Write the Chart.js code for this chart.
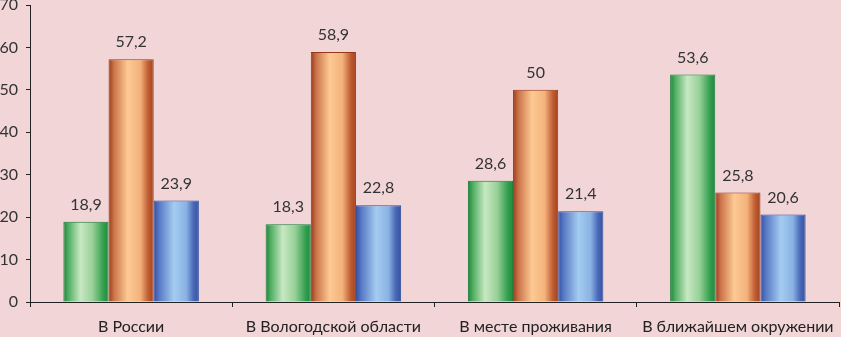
<!DOCTYPE html>
<html>
<head>
<meta charset="utf-8">
<script src="https://cdn.jsdelivr.net/npm/chart.js@4/dist/chart.umd.min.js"></script>
<style>
  html, body { margin: 0; padding: 0; background: #f1d5d7; }
  #wrap { width: 841px; height: 337px; position: relative; }
</style>
</head>
<body>
<div id="wrap"><canvas id="myChart"></canvas></div>
<script>
var categories = ["В России", "В Вологодской области", "В месте проживания", "В ближайшем окружении"];
var greenValues = [18.9, 18.3, 28.6, 53.6];
var orangeValues = [57.2, 58.9, 50, 25.8];
var blueValues = [23.9, 22.8, 21.4, 20.6];
var yTicks = [0, 10, 20, 30, 40, 50, 60, 70];

var catPct = 0.67;

// horizontal "cylinder" gradients, one per series
var stops = [
    [[0, "#1b8539"], [0.12, "#54b064"], [0.38, "#c8e8c3"], [0.65, "#98d098"], [0.88, "#34a04f"], [1, "#1c8a3d"]],
    [[0, "#9a3a1a"], [0.12, "#cb744a"], [0.42, "#fdc993"], [0.7, "#f4b27c"], [0.88, "#bf5d32"], [1, "#a3411d"]],
    [[0, "#3250a2"], [0.12, "#5879c4"], [0.45, "#a4ccf1"], [0.72, "#8ab2e3"], [0.88, "#4a68b7"], [1, "#3451a2"]]
];
var edgeColors = ["#1a7c37", "#953819", "#304d9c"];

function barGradient(ctx) {
    var chart = ctx.chart;
    var ds = ctx.datasetIndex;
    if (!chart.chartArea || !chart.scales.x) return stops[ds][2][1];
    var x = chart.scales.x;
    var catW = x.width / categories.length;
    var groupW = catW * catPct;
    var barW = groupW / 3;
    var left = x.getPixelForValue(ctx.dataIndex) - groupW / 2 + ds * barW;
    var g = chart.ctx.createLinearGradient(left, 0, left + barW, 0);
    stops[ds].forEach(function(s) { g.addColorStop(s[0], s[1]); });
    return g;
}

var valueLabels = {
    id: "valueLabels",
    afterDatasetsDraw: function(chart) {
        var c = chart.ctx;
        c.save();
        c.font = "16px Lato";
        c.fillStyle = "#333333";
        c.textAlign = "center";
        c.textBaseline = "alphabetic";
        chart.data.datasets.forEach(function(dataset, i) {
            chart.getDatasetMeta(i).data.forEach(function(bar, j) {
                var txt = String(dataset.data[j]).replace(".", ",");
                c.fillText(txt, bar.x, bar.y - 12);
            });
        });
        c.restore();
    }
};

var datasets = [greenValues, orangeValues, blueValues].map(function(vals, i) {
    return {
        data: vals,
        backgroundColor: barGradient,
        borderColor: edgeColors[i],
        borderWidth: 1,
        categoryPercentage: catPct,
        barPercentage: 1
    };
});

new Chart(document.getElementById("myChart"), {
    type: "bar",
    data: { labels: categories, datasets: datasets },
    options: {
        responsive: true,
        maintainAspectRatio: false,
        animation: false,
        layout: { padding: { top: 5, right: 2, left: 0, bottom: 0 } },
        plugins: { legend: { display: false }, tooltip: { enabled: false } },
        scales: {
            x: {
                grid: { display: true, drawOnChartArea: false, tickLength: 5, color: "#222", offset: true },
                border: { color: "#222", width: 1 },
                ticks: { color: "#222", font: { family: "Lato", size: 16 }, padding: 10, maxRotation: 0 },
                afterFit: function(s) { s.height = 35; s.paddingLeft = 0; s.paddingRight = 0; }
            },
            y: {
                min: 0,
                max: 70,
                afterBuildTicks: function(s) { s.ticks = yTicks.map(function(v) { return { value: v }; }); },
                grid: { display: true, drawOnChartArea: false, tickLength: 4, color: "#222" },
                border: { color: "#222", width: 1 },
                ticks: { color: "#333", font: { family: "Lato", size: 16 }, padding: 8 },
                afterFit: function(s) { s.width = 30; s.paddingTop = 0; s.paddingBottom = 0; }
            }
        }
    },
    plugins: [valueLabels]
});
</script>
</body>
</html>
